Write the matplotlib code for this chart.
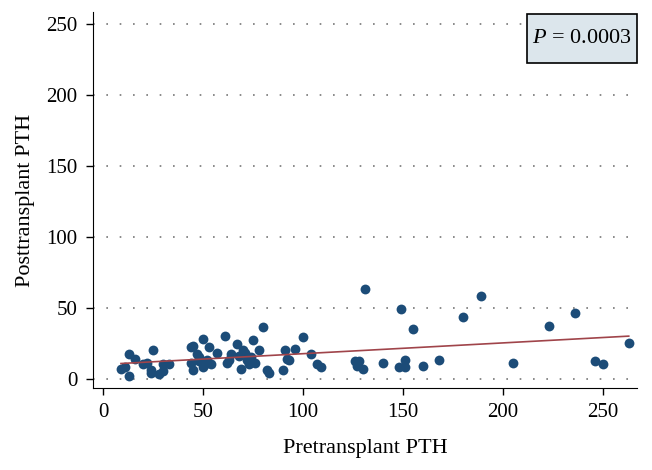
import numpy as np
import matplotlib.pyplot as plt
from matplotlib.patches import Rectangle

plt.rcParams['font.family'] = ['Liberation Serif', 'DejaVu Serif']
plt.rcParams['mathtext.fontset'] = 'custom'
plt.rcParams['mathtext.it'] = 'Liberation Serif:italic'
plt.rcParams['mathtext.rm'] = 'Liberation Serif'

pre_pth = [9, 11, 13, 13, 16, 20, 22, 24, 24, 25, 28, 30, 30, 33,
           44, 45, 44, 45, 47, 48, 48, 50, 50, 51, 52, 53, 54, 57,
           61, 62, 63, 64, 67, 68, 69, 70, 71, 72, 73, 74, 75, 76, 78,
           80, 82, 83, 90, 91, 92, 93, 96, 100, 104, 107, 109,
           126, 127, 128, 130, 131, 140, 148, 149, 151, 151, 155, 160,
           168, 180, 189, 205, 223, 236, 246, 250, 263]
post_pth = [7, 8, 17, 2, 14, 10, 11, 6, 4, 20, 3, 5, 10, 10,
            22, 23, 11, 6, 17, 15, 12, 28, 8, 10, 13, 22, 10, 18,
            30, 11, 13, 17, 24, 16, 7, 20, 18, 13, 10, 15, 27, 11, 20,
            36, 6, 4, 6, 20, 14, 13, 21, 29, 17, 10, 8,
            12, 9, 12, 7, 63, 11, 8, 49, 13, 8, 35, 9,
            13, 43, 58, 11, 37, 46, 12, 10, 25]
p_text = '$P$ = 0.0003'

x = np.array(pre_pth)
y = np.array(post_pth)
slope, intercept = np.polyfit(x, y, 1)

fig = plt.figure(figsize=(6.52, 4.70), dpi=100)
ax = fig.add_axes([0.1426, 0.175, 0.834, 0.799])

ax.scatter(x, y, s=50, color='#1c4c78', zorder=3, linewidths=0)
xs = np.array([x.min(), x.max()])
ax.plot(xs, intercept + slope * xs, color='#a0444a', lw=1.2, zorder=4)

ax.set_xlim(-5, 267)
ax.set_ylim(-6.5, 258)
ax.set_xticks(range(0, 251, 50))
ax.set_yticks(range(0, 251, 50))
ax.yaxis.grid(True, linestyle=(0, (1, 7)), color='#777777', lw=1.2)
ax.set_axisbelow(True)
for side in ['top', 'right']:
    ax.spines[side].set_visible(False)
ax.tick_params(direction='out', length=5, width=1, pad=6, labelsize=15, colors='black')
ax.set_xlabel('Pretransplant PTH', fontsize=16, labelpad=12)
ax.set_ylabel('Posttransplant PTH', fontsize=16, labelpad=8)

ax.add_patch(Rectangle((0.799, 0.865), 0.201, 0.130, transform=ax.transAxes,
                       facecolor='#dce6ec', edgecolor='black', lw=1.2, zorder=5,
                       clip_on=False))
ax.text(0.8995, 0.93, p_text, transform=ax.transAxes, ha='center', va='center',
        fontsize=16, zorder=6)

fig.savefig('out.png', dpi=100)
